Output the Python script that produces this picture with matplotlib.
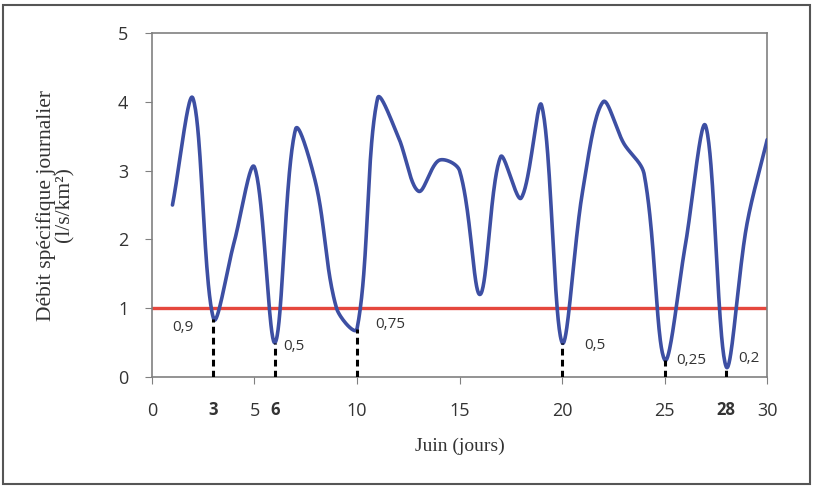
import numpy as np
import matplotlib
matplotlib.use('Agg')
import matplotlib.pyplot as plt
from matplotlib.patches import Rectangle

# daily specific discharge, June (l/s/km2)
days = list(range(1, 31))
debit = [2.5, 4.05, 0.85, 1.95, 3.05, 0.5, 3.6, 2.8, 1.0, 0.7,
         4.05, 3.5, 2.7, 3.15, 3.0, 1.2, 3.2, 2.6, 3.95, 0.5,
         2.7, 4.0, 3.4, 2.95, 0.25, 1.9, 3.65, 0.15, 2.2, 3.45]

seuil = 1.0

# low-flow days and their labels
min_days = [3, 6, 10, 20, 25, 28]
min_vals = [0.85, 0.5, 0.7, 0.5, 0.25, 0.15]
min_labels = ['0,9', '0,5', '0,75', '0,5', '0,25', '0,2']
label_pos = [(1.5, 0.72), (6.9, 0.45), (11.6, 0.76), (21.6, 0.46), (26.3, 0.24), (29.1, 0.27)]

x_major = [0, 5, 10, 15, 20, 25, 30]
x_extra = [3, 6, 28]


def smooth(x, y, sx=20.5, sy=68.7, n=40):
    # Bezier smoothing with tangents scaled by segment length (like Excel)
    P = np.column_stack([np.asarray(x, float) * sx, np.asarray(y, float) * sy])
    P = np.vstack([P[0], P, P[-1]])
    d = np.linalg.norm(np.diff(P, axis=0), axis=1)
    t = np.linspace(0, 1, n, endpoint=False)[:, None]
    pts = []
    for i in range(1, len(P) - 2):
        p0, p1, p2, p3 = P[i - 1], P[i], P[i + 1], P[i + 2]
        d01, d12, d23 = d[i - 1], d[i], d[i + 1]
        c1 = p1 + (p2 - p0) * (d12 / (d01 + d12)) / 3.0
        c2 = p2 - (p3 - p1) * (d12 / (d12 + d23)) / 3.0
        b = ((1 - t) ** 3) * p1 + 3 * ((1 - t) ** 2) * t * c1 \
            + 3 * (1 - t) * t ** 2 * c2 + t ** 3 * p2
        pts.append(b)
    pts.append(P[-1][None, :])
    pts = np.vstack(pts)
    return pts[:, 0] / sx, pts[:, 1] / sy


fig = plt.figure(figsize=(8.17, 4.86), dpi=100)
ax = fig.add_axes([0.186, 0.2243, 0.753, 0.7077])

sx, sy = smooth(days, debit)
ax.plot(sx, sy, color='#3d4fa3', lw=2.6, solid_capstyle='round', zorder=3)
ax.axhline(seuil, color='#e5473d', lw=2.4, zorder=2)

for d, v in zip(min_days, min_vals):
    ax.plot([d, d], [0, v], color='black', lw=2.2, ls=(0, (2.2, 1.4)), zorder=4)

for lab, (lx, ly) in zip(min_labels, label_pos):
    ax.text(lx, ly, lab, fontsize=11, color='#333333', ha='center', va='center',
            family='Open Sans')

ax.set_xlim(0, 30)
ax.set_ylim(0, 5)
ax.set_yticks(range(0, 6))
ax.set_xticks(x_major)
ax.set_xticks(x_extra, minor=True)
ax.set_xticklabels([str(v) for v in x_extra], minor=True, fontweight='bold')

ax.tick_params(axis='both', which='major', direction='out', length=5,
               color='#808080', labelsize=13, labelcolor='#333333')
ax.tick_params(axis='x', which='major', pad=13)
ax.tick_params(axis='y', which='major', pad=12)
ax.tick_params(axis='x', which='minor', length=0, pad=17.5,
               labelsize=12, labelcolor='#333333')
for lab in ax.get_xticklabels() + ax.get_yticklabels():
    lab.set_family('Open Sans')
for lab in ax.get_xticklabels(minor=True):
    lab.set_family('Open Sans')

for s in ax.spines.values():
    s.set_color('#808080')
    s.set_linewidth(1.2)

ax.set_xlabel('Juin (jours)', family='Liberation Serif', fontsize=14,
              color='#333333', labelpad=13)
ax.set_ylabel('Débit spécifique journalier\n(l/s/km²)', family='Liberation Serif',
              fontsize=15.5, color='#333333', labelpad=31, linespacing=1.0)

# outer frame of the picture
fig.patches.append(Rectangle((0.004, 0.004), 0.987, 0.985, transform=fig.transFigure,
                             fill=False, edgecolor='#555555', lw=1.5))

fig.savefig('out.png', dpi=100)
